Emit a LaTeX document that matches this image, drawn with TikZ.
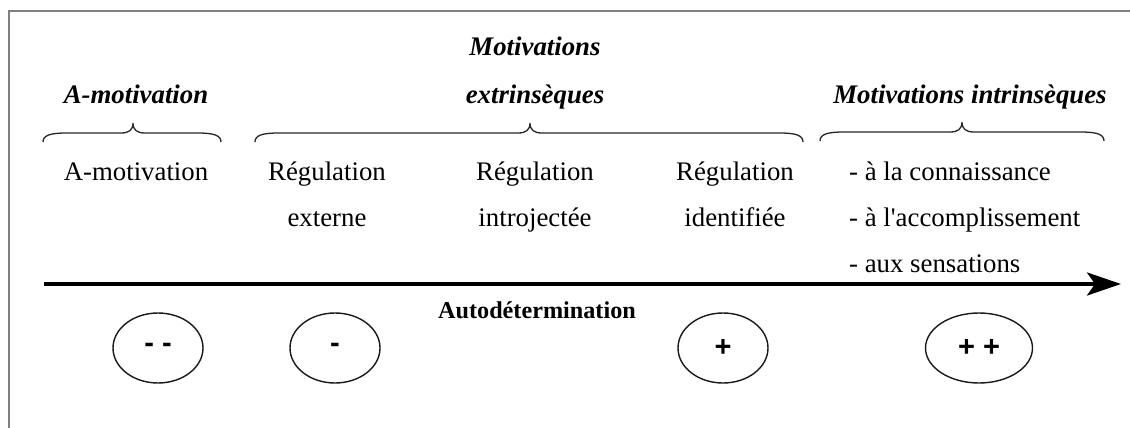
\documentclass[tikz,border=0pt]{standalone}
\usepackage{fontspec}
\setmainfont{Liberation Serif}[Ligatures=TeXOff]
\newfontfamily\signfont{Liberation Sans}
\usetikzlibrary{arrows.meta,shapes.geometric}
\newcommand\curlybrace[4]{% left x, tip x, right x, base y
  \draw[bracestyle] (#1,#4+9) .. controls (#1,#4+2) and (#1+8,#4) .. (#1+24,#4)
    -- (#2-12,#4) .. controls (#2-4,#4) and (#2,#4-3) .. (#2,#4-10)
    .. controls (#2,#4-3) and (#2+4,#4) .. (#2+12,#4)
    -- (#3-24,#4) .. controls (#3-8,#4) and (#3,#4+2) .. (#3,#4+9);}
\begin{document}
\begin{tikzpicture}[x=1pt,y=-1pt,
  txt/.style={font=\fontsize{26.8}{32}\selectfont, inner sep=0pt, anchor=base},
  head/.style={txt, font=\fontsize{26.8}{32}\selectfont\bfseries\itshape},
  item/.style={txt, anchor=base west},
  bracestyle/.style={line width=1.3pt, draw=black!85},
  sign/.style={ellipse, draw=black!90, line width=1.4pt, minimum width=90pt, minimum height=70pt, inner sep=0pt, font=\signfont\fontsize{29}{32}\selectfont\bfseries},
  axis/.style={line width=3.6pt, -{Stealth[length=34pt,width=23pt,inset=8pt]}},
  frame/.style={draw=black!50, line width=2.2pt}]
\useasboundingbox (0,0) rectangle (1130,428);
% frame
\draw[frame] (9,440) -- (9,11) -- (1140,11);
% headings
\node[head] (hA) at (136,103) {A-motivation};
\node[head] (hE1) at (535,56) {Motivations};
\node[head] (hE2) at (535,103) {extrinsèques};
\node[head] (hI) at (970,103) {Motivations intrinsèques};
% braces
\curlybrace{43}{133}{221}{133}
\curlybrace{255}{530}{803}{133}
\curlybrace{820}{962}{1104}{132}
% column texts
\node[txt] (am) at (136,180) {A-motivation};
\node[txt] (re1) at (327,180) {Régulation};
\node[txt] (re2) at (327,226) {externe};
\node[txt] (ri1) at (535,180) {Régulation};
\node[txt] (ri2) at (535,226) {introjectée};
\node[txt] (rd1) at (735,180) {Régulation};
\node[txt] (rd2) at (735,226) {identifiée};
\node[item] (i1) at (849,180) {- à la connaissance};
\node[item] (i2) at (849,226) {- à l'accomplissement};
\node[item] (i3) at (849,272) {- aux sensations};
% axis
\coordinate (axS) at (44,284);
\coordinate (axE) at (1121,284);
\draw[axis] (axS) -- (axE);
\node[txt, font=\fontsize{24.2}{29}\selectfont\bfseries] (auto) at (537,318) {Autodétermination};
% signs
\node[sign] (s1) at (158,348) {- -};
\node[sign] (s2) at (335,348) {-};
\node[sign] (s3) at (723,348) {+};
\node[sign, minimum width=107pt] (s4) at (979,348) {+ +};
\end{tikzpicture}
\end{document}
